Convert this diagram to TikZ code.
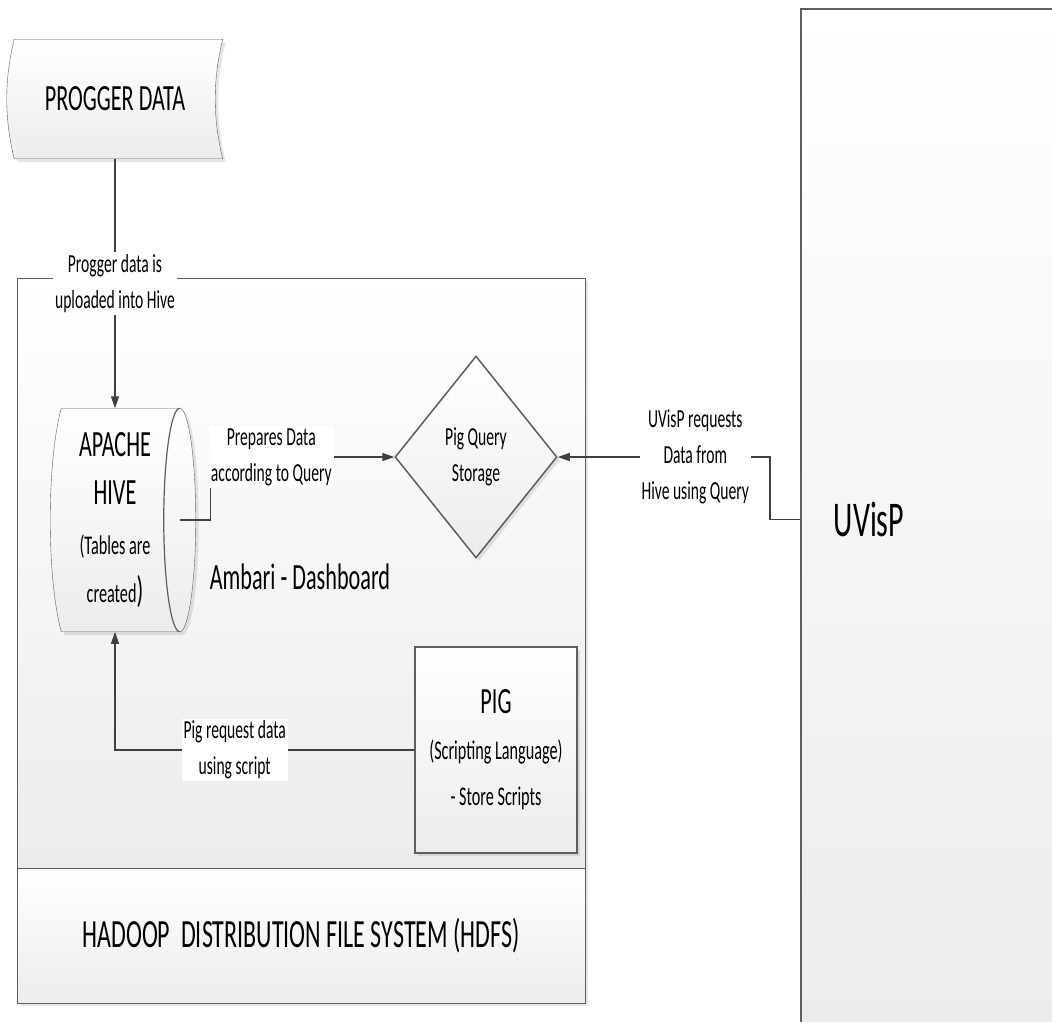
\documentclass[tikz,border=0pt]{standalone}
\usepackage{fontspec}
\setmainfont{Carlito}[FakeStretch=0.6]
\usetikzlibrary{positioning, shapes.geometric, shadows, arrows.meta, backgrounds}

\definecolor{edge}{HTML}{5E5E5E}
\definecolor{wire}{HTML}{404040}
\definecolor{shadebot}{HTML}{ECECEC}

\newcommand{\bigtxt}{\fontsize{37}{50}\selectfont}
\newcommand{\smalltxt}{\fontsize{26}{36}\selectfont}

\begin{document}
\begin{tikzpicture}[x=1pt, y=-1pt, line width=1.5pt,
    main/.style = {draw=edge, top color=white, bottom color=shadebot, drop shadow={opacity=0.2, shadow xshift=3pt, shadow yshift=-3pt}},
    link/.style = {draw=wire, line width=1.2pt, -{Triangle[length=12pt, width=8pt]}},
    lbl/.style = {fill=white, align=center, font=\smalltxt, inner sep=2pt}]
    \path[use as bounding box, clip] (0,0) rectangle (1052,1021);

    \node[font=\bigtxt] (9) at (300,577) {Ambari - Dashboard};
    \node[font=\bigtxt, minimum width=214pt, minimum height=118pt] (1) at (115,99) {PROGGER DATA};
    \node[minimum width=128pt, minimum height=222pt, inner sep=0pt, align=center, font=\fontsize{27}{48}\selectfont] (2) at (115,520) {{\bigtxt APACHE}\\{\bigtxt HIVE}\\[2pt](Tables are\\created{\bigtxt )}};
    \begin{scope}[on background layer]
        \node[main, minimum width=568pt, minimum height=590pt] (5) at (301,573) {};
        \node[main, minimum width=568pt, minimum height=135pt, font=\fontsize{40}{50}\selectfont, below=0pt of 5] (6) {HADOOP\ \ DISTRIBUTION FILE SYSTEM (HDFS)};
        % stored data
        \draw[main] ([xshift=7pt]1.north west) -- (1.north east) .. controls +(-10,40) and +(-10,-40) .. (1.south east) -- ([xshift=7pt]1.south west) .. controls +(-10,-40) and +(-10,40) .. ([xshift=7pt]1.north west) -- cycle;
        % drum
        \draw[main] ([xshift=11pt]2.north west) -- (2.north east) .. controls +(8.8,0) and +(0,-61) .. ([xshift=16pt]2.east) .. controls +(0,61) and +(8.8,0) .. (2.south east) -- ([xshift=11pt]2.south west) .. controls +(-14.7,-55) and +(-14.7,55) .. ([xshift=11pt]2.north west) -- cycle;
        \draw[edge, line width=1.2pt] (2.north east) .. controls +(-8.8,0) and +(0,-61) .. ([xshift=-16pt]2.east) .. controls +(0,61) and +(-8.8,0) .. (2.south east);
    \end{scope}

    \node[main, diamond, minimum width=162pt, minimum height=202pt, inner sep=0pt, align=center, font=\smalltxt] (3) at (476,457) {Pig Query\\Storage};
    \node[main, minimum width=162pt, minimum height=206pt, align=center, font=\fontsize{27}{46}\selectfont] (4) at (496,750) {{\bigtxt PIG}\\(Scripting Language)\\- Store Scripts};
    \node[main, anchor=north west, minimum height=1022pt, text width=234pt, inner xsep=33pt, align=left, font=\fontsize{50}{60}\selectfont] (7) at (800,8) {UVisP};

    \draw[link] (1.south) -- node[lbl] {Progger data is\\uploaded into Hive} (2.north);
    \draw[link] (2.east) -- ++(31,0) |- node[lbl, pos=0.665] {Prepares Data\\according to Query} (3.west);
    \draw[link] (7.west) -- ++(-30,0) |- node[lbl, pos=0.676] {UVisP requests\\Data from\\Hive using Query} (3.east);
    \draw[link] (4.west) -| node[lbl, pos=0.3] {Pig request data\\using script} (2.south);
\end{tikzpicture}
\end{document}
